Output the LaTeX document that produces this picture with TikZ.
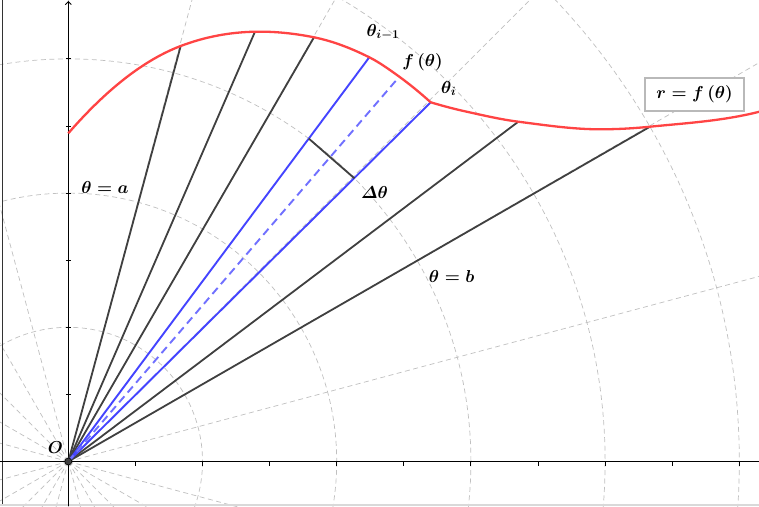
\documentclass[tikz,border=0pt]{standalone}
\usepackage{amsmath}
\usetikzlibrary{arrows.meta}
\definecolor{gridgray}{RGB}{192,192,192}
\definecolor{darkline}{RGB}{64,64,64}
\definecolor{curvered}{RGB}{255,68,68}
\definecolor{segblue}{RGB}{68,68,255}
\definecolor{midblue}{RGB}{112,112,255}
\definecolor{boxgray}{RGB}{185,185,185}
\tikzset{
  gridline/.style={gridgray, line width=0.7pt, dash pattern=on 5pt off 3.5pt},
  axisline/.style={black, line width=0.9pt},
  rayline/.style={darkline, line width=1.8pt},
  blueray/.style={segblue, line width=1.9pt},
  midray/.style={midblue, line width=1.9pt, dash pattern=on 8pt off 5pt},
  curveline/.style={curvered, line width=2.3pt, line join=round},
  lbl/.style={font=\fontsize{17}{20}\selectfont\boldmath, inner sep=0pt, anchor=base},
  eqbox/.style={draw=boxgray, line width=1.6pt, fill=white, minimum width=99pt,
    minimum height=33pt, inner sep=0pt, font=\fontsize{17}{20}\selectfont\boldmath},
  origindot/.style={circle, fill=darkline, draw=black, line width=0.6pt,
    minimum size=7pt, inner sep=0pt}
}
\begin{document}
\begin{tikzpicture}[x=1pt,y=-1pt]
\useasboundingbox (0,0) rectangle (759,506);
\fill[white] (0,0) rectangle (759,506);
\coordinate (O) at (68.3,461.5);
% polar grid
\begin{scope}
  \clip (0,0) rectangle (759,506);
  \foreach \r in {1,...,5} \draw[gridline] (O) circle [radius=134.2*\r];
  \foreach \a in {0,15,...,345} \draw[gridline] (O) -- ++(\a:950);
\end{scope}
% frame remnants
\coordinate (fl1) at (2.5,0); \coordinate (fl2) at (2.5,506);
\draw[black!80, line width=0.8pt] (fl1) -- (fl2);
\coordinate (fb1) at (0,504.8); \coordinate (fb2) at (759,504.8);
\draw[gray!30, line width=1.5pt] (fb1) -- (fb2);
% axes
\coordinate (xl) at (0,461.5); \coordinate (xr) at (759,461.5);
\coordinate (yb) at (68.3,506); \coordinate (yt) at (68.3,1);
\draw[axisline] (xl) -- (xr);
\draw[axisline, -{Straight Barb[length=3pt,width=6pt]}] (yb) -- (yt);
\foreach \k in {1,...,10} \draw[axisline] ({68.3+67.1*\k},461.5) -- ++(0,4.5);
\foreach \k in {1,...,6} \draw[axisline] ({65.8},{461.5-67.1*\k}) -- ++(5,0);
% curve points
\coordinate (c0) at (68.3,133.3);
\coordinate (c1) at (180.7,46);
\coordinate (c2) at (255,31.7);
\coordinate (c3) at (314,37.3);
\coordinate (c4) at (369.3,57.3);
\coordinate (c5) at (399.3,76.7);
\coordinate (c6) at (430.7,102.3);
\coordinate (q3) at (466.7,111.7);
\coordinate (c7) at (518.3,121.7);
\coordinate (q4) at (600,129.3);
\coordinate (c8) at (650,126.7);
\coordinate (q6) at (764,110.5);
% rays
\foreach \p in {c1,c2,c3,c7,c8} \draw[rayline] (O) -- (\p);
\draw[blueray] (O) -- (c4);
\draw[blueray] (O) -- (c6);
\draw[midray] (O) -- (c5);
% delta theta chord
\coordinate (d1) at (308.8,138.6);
\coordinate (d2) at (354.4,178.3);
\draw[rayline] (d1) -- (d2);
% curve r = f(theta)
\begin{scope}
  \clip (0,0) rectangle (759,506);
  \draw[curveline] (c0)
    .. controls (105.8,90.2) and (143.2,60.3) .. (c1)
    .. controls (205.5,36.6) and (230.2,32.2) .. (c2)
    .. controls (274.7,31.3) and (294.3,33.4) .. (c3)
    .. controls (332.4,41.0) and (350.9,48.1) .. (c4)
    .. controls (379.3,62.3) and (389.3,69.5) .. (c5)
    .. controls (409.8,84.3) and (420.2,92.9) .. (c6)
    .. controls (442.7,105.9) and (454.7,109.1) .. (q3)
    .. controls (483.9,115.5) and (501.1,119.5) .. (c7)
    .. controls (545.5,125.2) and (572.8,129.3) .. (q4)
    .. controls (616.7,129.3) and (633.3,128.4) .. (c8)
    .. controls (688,122.9) and (726,120.8) .. (q6);
\end{scope}
% origin
\node[origindot] (Odot) at (O) {};
% labels
\node[lbl] (la) at (105,193.3) {$\theta = a$};
\node[lbl] (lb) at (451.7,282.7) {$\theta = b$};
\node[lbl] (ld) at (374.5,198.3) {$\varDelta\theta$};
\node[lbl] (lim) at (383,36) {$\theta_{i-1}$};
\node[lbl] (lf) at (422.5,66) {$f\left(\theta\right)$};
\node[lbl] (li) at (448.7,93.3) {$\theta_i$};
\node[lbl] (lo) at (55.3,453.3) {$O$};
\node[eqbox] (eq) at (694.5,94.3) {$r = f\left(\theta\right)$};
\end{tikzpicture}
\end{document}
